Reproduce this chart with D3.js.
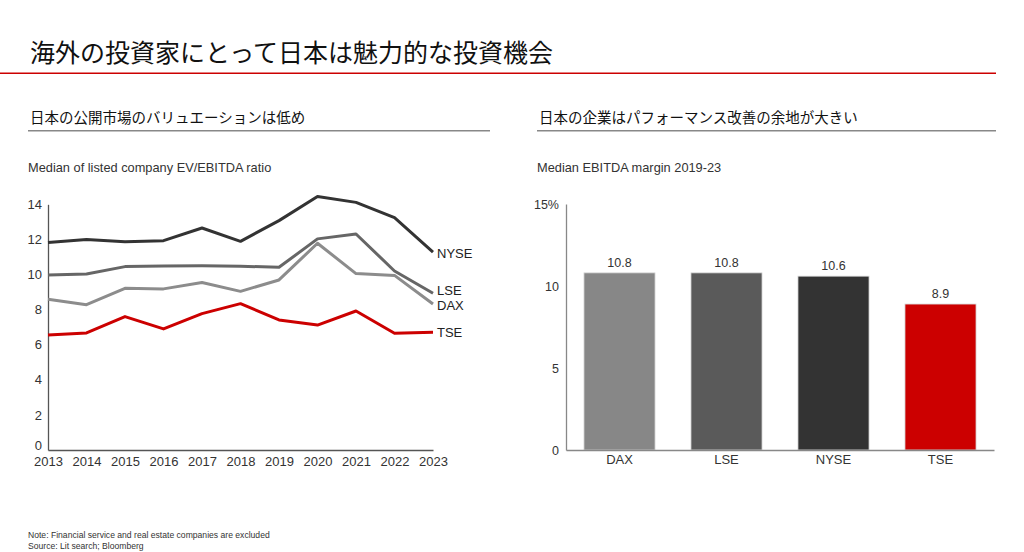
<!DOCTYPE html>
<html><head><meta charset="utf-8">
<script src="https://cdn.jsdelivr.net/npm/d3@7"></script>
<style>
body{margin:0;background:#fff;}
text{font-family:"Liberation Sans",Arial,sans-serif;}
.jp{font-family:"Noto Sans CJK JP","Noto Sans",sans-serif;}
</style></head><body>
<svg id="c" width="1024" height="552"></svg>
<script>
const years = [2013,2014,2015,2016,2017,2018,2019,2020,2021,2022,2023];
const nyse = [11.83,12.0,11.87,11.93,12.65,11.89,13.07,14.44,14.11,13.24,11.28];
const lse  = [9.97,10.03,10.45,10.49,10.5,10.47,10.41,12.03,12.31,10.2,8.93];
const dax  = [8.59,8.28,9.21,9.18,9.54,9.04,9.69,11.78,10.05,9.95,8.32];
const tse  = [6.55,6.67,7.6,6.9,7.77,8.34,7.41,7.12,7.92,6.65,6.71];
const lineNames = ["NYSE","LSE","DAX","TSE"];
const yTicksLine = [0,2,4,6,8,10,12,14];

const barCats = ["DAX","LSE","NYSE","TSE"];
const barVals = [10.8,10.8,10.6,8.9];
const yTicksBar = [0,5,10,15];

const svg = d3.select("#c");

// Title
svg.append("text").attr("class","jp").attr("x",30).attr("y",62)
  .attr("font-size",25).attr("fill","#111").text("海外の投資家にとって日本は魅力的な投資機会");
svg.append("line").attr("x1",0).attr("x2",996).attr("y1",73.3).attr("y2",73.3)
  .attr("stroke","#cc0000").attr("stroke-width",1.6);

// Subtitles
function subtitle(x, x2, txt){
  svg.append("text").attr("class","jp").attr("x",x).attr("y",123).attr("font-size",14.5)
    .attr("fill","#111").text(txt);
  svg.append("line").attr("x1",x-2).attr("x2",x2).attr("y1",130.7).attr("y2",130.7)
    .attr("stroke","#888").attr("stroke-width",1.6);
}
subtitle(30,490,"日本の公開市場のバリュエーションは低め");
subtitle(539,996,"日本の企業はパフォーマンス改善の余地が大きい");

svg.append("text").attr("x",28).attr("y",172).attr("font-size",12.8).attr("fill","#333")
  .text("Median of listed company EV/EBITDA ratio");
svg.append("text").attr("x",537).attr("y",172).attr("font-size",12.8).attr("fill","#333")
  .text("Median EBITDA margin 2019-23");

// Line chart
const x = d3.scaleLinear().domain([2013,2023]).range([48,433]);
const y = d3.scaleLinear().domain([0,14]).range([450,204.3]);
const g1 = svg.append("g");
const yAx = g1.append("g").attr("transform","translate(48,0)")
  .call(d3.axisLeft(y).tickValues(yTicksLine).tickSize(0).tickPadding(6).tickFormat(d3.format("d")));
yAx.select(".domain").attr("stroke","#555").attr("stroke-width",1.3);
yAx.selectAll("text").attr("font-size",13).attr("fill","#333").attr("font-family","Liberation Sans, Arial, sans-serif");
yAx.selectAll(".tick").filter(d=>d===0).select("text").attr("dy","-0.05em");
const xAx = g1.append("g").attr("transform","translate(0,450)")
  .call(d3.axisBottom(x).tickValues(years).tickSize(0).tickPadding(7).tickFormat(d3.format("d")));
xAx.select(".domain").attr("stroke","#555").attr("stroke-width",1.3);
xAx.selectAll("text").attr("font-size",13).attr("fill","#333").attr("font-family","Liberation Sans, Arial, sans-serif");

const series = [
  {name:"NYSE", vals:nyse, color:"#333333", dy:1},
  {name:"LSE", vals:lse, color:"#666666", dy:-3},
  {name:"DAX", vals:dax, color:"#8c8c8c", dy:1},
  {name:"TSE", vals:tse, color:"#cc0000", dy:0}
];
const line = d3.line().x((d,i)=>x(years[i])).y(d=>y(d));
series.forEach(s=>{
  g1.append("path").datum(s.vals).attr("d",line).attr("fill","none")
    .attr("stroke",s.color).attr("stroke-width",3).attr("stroke-linejoin","round");
});
series.forEach(s=>{
  g1.append("text").attr("x",x(2023)+4).attr("y",y(s.vals[s.vals.length-1])+s.dy)
    .attr("dy","0.35em").attr("font-size",13).attr("fill","#222").text(s.name);
});

// Bar chart
const xb = d3.scaleBand().domain(barCats).range([566,994]).paddingInner(0.336).paddingOuter(0.168);
const yb = d3.scaleLinear().domain([0,15]).range([450,204]);
const barColors = ["#878787","#5a5a5a","#333333","#cc0000"];
const g2 = svg.append("g");
g2.selectAll("rect").data(barVals).join("rect")
  .attr("x",(d,i)=>xb(barCats[i])).attr("width",xb.bandwidth())
  .attr("y",d=>yb(d)).attr("height",d=>yb(0)-yb(d))
  .attr("fill",(d,i)=>barColors[i]).attr("stroke","#d8d8d8").attr("stroke-width",0.8);
g2.selectAll("text.v").data(barVals).join("text").attr("class","v")
  .attr("x",(d,i)=>xb(barCats[i])+xb.bandwidth()/2).attr("y",d=>yb(d)-6)
  .attr("text-anchor","middle").attr("font-size",12.5).attr("fill","#333").text(d=>d.toFixed(1));
const ybAx = g2.append("g").attr("transform","translate(566,0)")
  .call(d3.axisLeft(yb).tickValues(yTicksBar).tickSize(0).tickPadding(7).tickFormat(d=>d===15?"15%":d));
ybAx.select(".domain").attr("stroke","#888").attr("stroke-width",1.3);
ybAx.selectAll("text").attr("font-size",12.5).attr("fill","#333").attr("font-family","Liberation Sans, Arial, sans-serif");
const xbAx = g2.append("g").attr("transform","translate(0,450)")
  .call(d3.axisBottom(xb).tickSize(0).tickPadding(5));
xbAx.select(".domain").attr("stroke","#888").attr("stroke-width",1.3);
xbAx.selectAll("text").attr("font-size",13).attr("fill","#333").attr("font-family","Liberation Sans, Arial, sans-serif");

// Notes
svg.append("text").attr("x",28).attr("y",538).attr("font-size",8.6).attr("fill","#333")
  .text("Note:  Financial service and real estate companies are excluded");
svg.append("text").attr("x",28).attr("y",549).attr("font-size",8.6).attr("fill","#333")
  .text("Source: Lit search; Bloomberg");
</script></body></html>
